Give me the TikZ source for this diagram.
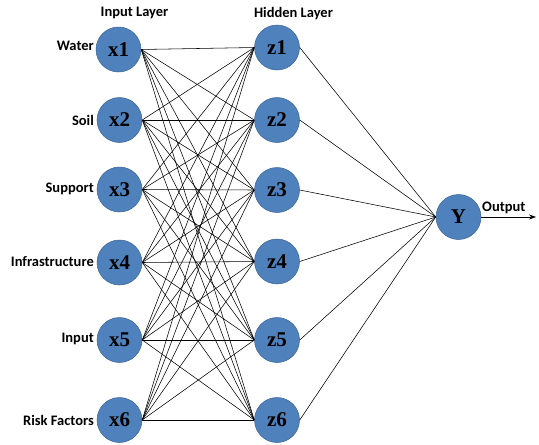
\documentclass[tikz,border=0pt]{standalone}
\usepackage{fontspec}
\setmainfont{Liberation Serif}
\newfontfamily\lblfont{Carlito}
\usetikzlibrary{arrows.meta}
\definecolor{nodefill}{RGB}{79,129,189}
\definecolor{nodeedge}{RGB}{60,100,150}
\tikzset{
  neuron/.style={circle, fill=nodefill, draw=nodeedge, line width=0.5pt, minimum size=45pt, inner sep=0pt, font=\fontsize{21}{23}\selectfont\bfseries},
  lbl/.style={font=\lblfont\fontsize{14.5}{16}\selectfont\bfseries, anchor=east, inner sep=0pt},
  hdr/.style={font=\lblfont\fontsize{14.5}{16}\selectfont\bfseries, inner sep=0pt},
  conn/.style={draw=black, line width=0.55pt}
}
\begin{document}
\begin{tikzpicture}[x=1pt,y=-1pt]
\useasboundingbox (0,0) rectangle (539,445);
% input layer
\node[neuron] (x1) at (118.5,49.5) {x1};
\node[neuron] (x2) at (119.5,120) {x2};
\node[neuron] (x3) at (119.5,189.5) {x3};
\node[neuron] (x4) at (119.5,262.5) {x4};
\node[neuron] (x5) at (119.5,340) {x5};
\node[neuron] (x6) at (119.5,420) {x6};
% hidden layer
\node[neuron] (z1) at (277,47.5) {z1};
\node[neuron] (z2) at (277,120) {z2};
\node[neuron] (z3) at (277,190) {z3};
\node[neuron] (z4) at (277,261.5) {z4};
\node[neuron] (z5) at (277,340) {z5};
\node[neuron] (z6) at (277,420) {z6};
% output
\node[neuron] (Y) at (458.5,217) {Y};
\coordinate (out) at (536,217);
% labels
\node[lbl] (lw) at (94,46) {Water};
\node[lbl] (ls) at (94,120) {Soil};
\node[lbl] (lsu) at (94,189) {Support};
\node[lbl] (li) at (94,262) {Infrastructure};
\node[lbl] (lin) at (94,339) {Input};
\node[lbl] (lr) at (94,420) {Risk Factors};
\node[hdr] (hin) at (134.5,13) {Input Layer};
\node[hdr] (hhid) at (293.5,14) {Hidden Layer};
\node[hdr, anchor=south west] (hout) at (482,214) {Output};
% connections
\foreach \i in {1,...,6}{
  \foreach \j in {1,...,6}{
    \draw[conn] (x\i.east) -- (z\j.west);
  }
  \draw[conn] (z\i.east) -- (Y.west);
}
\draw[conn, -{Stealth[length=7pt,width=5pt]}] (Y.east) -- (out);
\end{tikzpicture}
\end{document}
